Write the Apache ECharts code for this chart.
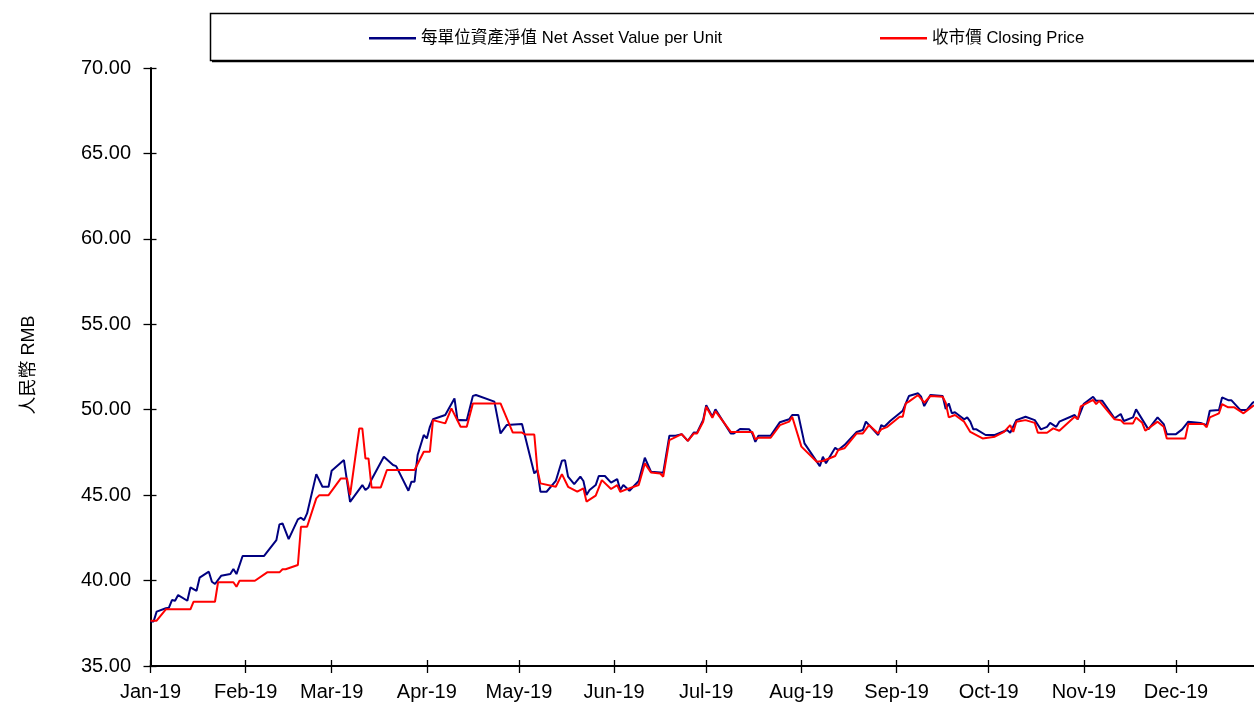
<!DOCTYPE html>
<html>
<head>
<meta charset="utf-8">
<script src="https://cdn.jsdelivr.net/npm/echarts@6/dist/echarts.min.js"></script>
<style>
html,body{margin:0;padding:0;background:#fff;}
#chart{width:1254px;height:702px;}
</style>
</head>
<body>
<div id="chart"></div>
<script>
// ---------- data ----------
const navName = '每單位資產淨值 Net Asset Value per Unit';
const priceName = '收市價 Closing Price';
const yAxisName = '人民幣 RMB';

const monthTicks = ['2019-01-01','2019-02-01','2019-03-01','2019-04-01','2019-05-01','2019-06-01',
                    '2019-07-01','2019-08-01','2019-09-01','2019-10-01','2019-11-01','2019-12-01'];
const monthLabels = ['Jan-19','Feb-19','Mar-19','Apr-19','May-19','Jun-19',
                     'Jul-19','Aug-19','Sep-19','Oct-19','Nov-19','Dec-19'];

const navDates = ['2019-01-01','2019-01-02','2019-01-03','2019-01-06','2019-01-07','2019-01-08','2019-01-09','2019-01-10','2019-01-13','2019-01-14','2019-01-16','2019-01-17','2019-01-20','2019-01-21','2019-01-22','2019-01-24','2019-01-27','2019-01-28','2019-01-29','2019-01-31',
'2019-02-07','2019-02-11','2019-02-12','2019-02-13','2019-02-15','2019-02-18','2019-02-19','2019-02-20','2019-02-21','2019-02-24','2019-02-26','2019-02-28',
'2019-03-01','2019-03-05','2019-03-07','2019-03-11','2019-03-12','2019-03-13','2019-03-14','2019-03-18','2019-03-21','2019-03-22','2019-03-26','2019-03-27','2019-03-28','2019-03-29','2019-03-31',
'2019-04-01','2019-04-02','2019-04-03','2019-04-07','2019-04-10','2019-04-11','2019-04-12','2019-04-14','2019-04-16','2019-04-17','2019-04-23','2019-04-25','2019-04-27',
'2019-05-02','2019-05-06','2019-05-07','2019-05-08','2019-05-10','2019-05-13','2019-05-15','2019-05-16','2019-05-17','2019-05-19','2019-05-21','2019-05-22','2019-05-23','2019-05-24','2019-05-26','2019-05-27','2019-05-29','2019-05-31',
'2019-06-02','2019-06-03','2019-06-04','2019-06-06','2019-06-09','2019-06-11','2019-06-13','2019-06-17','2019-06-19','2019-06-21','2019-06-23','2019-06-25','2019-06-27','2019-06-28','2019-06-30',
'2019-07-01','2019-07-03','2019-07-04','2019-07-09','2019-07-10','2019-07-12','2019-07-15','2019-07-16','2019-07-17','2019-07-18','2019-07-22','2019-07-25','2019-07-28','2019-07-29','2019-07-31',
'2019-08-02','2019-08-07','2019-08-08','2019-08-09','2019-08-12','2019-08-13','2019-08-15','2019-08-19','2019-08-21','2019-08-22','2019-08-26','2019-08-27','2019-08-28','2019-08-30',
'2019-09-03','2019-09-05','2019-09-08','2019-09-09','2019-09-10','2019-09-12','2019-09-16','2019-09-17','2019-09-18','2019-09-19','2019-09-20','2019-09-23','2019-09-24','2019-09-25','2019-09-26','2019-09-27','2019-09-30',
'2019-10-03','2019-10-07','2019-10-08','2019-10-10','2019-10-13','2019-10-16','2019-10-18','2019-10-20','2019-10-21','2019-10-23','2019-10-24','2019-10-29','2019-10-30',
'2019-11-01','2019-11-04','2019-11-05','2019-11-07','2019-11-11','2019-11-13','2019-11-14','2019-11-17','2019-11-18','2019-11-22','2019-11-25','2019-11-27','2019-11-28',
'2019-12-01','2019-12-03','2019-12-05','2019-12-09','2019-12-11','2019-12-12','2019-12-15','2019-12-16','2019-12-18','2019-12-19','2019-12-22','2019-12-24','2019-12-26','2019-12-27'];
const navValues = [37.60,37.60,38.18,38.38,38.41,38.86,38.82,39.15,38.82,39.60,39.40,40.17,40.52,39.93,39.80,40.28,40.38,40.68,40.38,41.44,
41.44,42.37,43.29,43.35,42.43,43.58,43.68,43.54,43.93,46.23,45.49,45.49,
46.43,47.05,44.61,45.59,45.30,45.45,45.92,47.25,46.76,46.70,45.26,45.79,45.79,47.35,48.52,
48.32,49.00,49.44,49.69,50.66,49.39,49.40,49.39,50.81,50.86,50.47,48.61,49.10,
49.16,46.27,46.47,45.20,45.20,45.83,47.01,47.05,46.08,45.65,46.08,45.83,45.01,45.30,45.59,46.12,46.12,45.73,
45.94,45.30,45.59,45.26,45.83,47.19,46.37,46.31,48.48,48.48,48.57,48.18,48.67,48.65,49.40,
50.27,49.59,50.02,48.61,48.61,48.87,48.85,48.61,48.12,48.48,48.48,49.27,49.44,49.69,49.69,
48.03,46.70,47.25,46.86,47.77,47.64,47.93,48.70,48.81,49.30,48.52,49.10,49.00,49.35,
49.94,50.80,50.96,50.76,50.21,50.86,50.80,50.04,50.37,49.79,49.85,49.44,49.55,49.30,48.85,48.85,48.52,
48.52,48.81,48.65,49.39,49.59,49.39,48.85,49.00,49.23,49.00,49.30,49.69,49.44,
50.35,50.76,50.52,50.52,49.50,49.75,49.34,49.55,50.02,48.85,49.55,49.16,48.57,
48.57,48.85,49.30,49.23,49.10,49.94,49.98,50.72,50.56,50.56,49.98,49.98,50.41,50.50];

const priceDates = ['2019-01-01','2019-01-03','2019-01-06','2019-01-14','2019-01-15','2019-01-22','2019-01-23','2019-01-28','2019-01-29','2019-01-30',
'2019-02-04','2019-02-08','2019-02-12','2019-02-13','2019-02-14','2019-02-18','2019-02-19','2019-02-21','2019-02-24','2019-02-25','2019-02-28',
'2019-03-04','2019-03-06','2019-03-07','2019-03-10','2019-03-11','2019-03-12','2019-03-13','2019-03-14','2019-03-17','2019-03-19','2019-03-28','2019-03-31',
'2019-04-02','2019-04-03','2019-04-07','2019-04-09','2019-04-12','2019-04-14','2019-04-16','2019-04-25','2019-04-29',
'2019-05-02','2019-05-03','2019-05-06','2019-05-07','2019-05-08','2019-05-13','2019-05-15','2019-05-17','2019-05-20','2019-05-22','2019-05-23','2019-05-26','2019-05-28','2019-05-31',
'2019-06-02','2019-06-03','2019-06-05','2019-06-09','2019-06-11','2019-06-13','2019-06-16','2019-06-17','2019-06-19','2019-06-23','2019-06-25','2019-06-27','2019-06-28','2019-06-30',
'2019-07-01','2019-07-03','2019-07-04','2019-07-09','2019-07-16','2019-07-17','2019-07-18','2019-07-22','2019-07-25','2019-07-28','2019-07-29',
'2019-08-01','2019-08-06','2019-08-08','2019-08-12','2019-08-13','2019-08-15','2019-08-19','2019-08-21','2019-08-23','2019-08-26','2019-08-27','2019-08-29',
'2019-09-02','2019-09-03','2019-09-04','2019-09-05','2019-09-08','2019-09-10','2019-09-12','2019-09-16','2019-09-17','2019-09-18','2019-09-20','2019-09-23','2019-09-25','2019-09-29',
'2019-10-03','2019-10-06','2019-10-08','2019-10-09','2019-10-10','2019-10-13','2019-10-16','2019-10-17','2019-10-20','2019-10-22','2019-10-24','2019-10-29','2019-10-30','2019-10-31',
'2019-11-04','2019-11-05','2019-11-06','2019-11-11','2019-11-13','2019-11-14','2019-11-17','2019-11-18','2019-11-20','2019-11-21','2019-11-25','2019-11-27','2019-11-28',
'2019-12-04','2019-12-05','2019-12-10','2019-12-11','2019-12-12','2019-12-15','2019-12-16','2019-12-18','2019-12-20','2019-12-23','2019-12-26','2019-12-27'];
const priceValues = [37.65,37.65,38.32,38.32,38.76,38.76,39.90,39.90,39.64,39.99,
39.99,40.48,40.48,40.66,40.66,40.91,43.15,43.15,44.81,45.00,45.00,
45.98,45.98,45.00,48.90,48.90,47.15,47.15,45.45,45.45,46.47,46.47,47.54,
47.54,49.39,49.20,50.08,49.00,49.00,50.37,50.37,48.66,
48.66,48.55,48.55,46.51,45.69,45.49,46.23,45.49,45.20,45.40,44.62,44.97,45.88,45.36,
45.59,45.20,45.34,45.59,46.86,46.33,46.27,46.08,48.22,48.57,48.18,48.61,48.61,49.30,
50.17,49.53,49.92,48.70,48.70,48.26,48.36,48.36,49.10,49.30,49.59,
47.84,46.95,47.00,47.29,47.64,47.74,48.61,48.61,49.10,48.61,48.85,49.00,
49.59,49.59,50.37,50.47,50.86,50.41,50.80,50.76,50.41,49.55,49.69,49.30,48.70,48.32,
48.42,48.70,49.10,48.70,49.30,49.39,49.23,48.65,48.65,48.91,48.77,49.59,49.45,50.20,
50.58,50.33,50.52,49.44,49.39,49.20,49.20,49.55,49.23,48.77,49.30,49.00,48.32,
48.32,49.16,49.16,48.97,49.55,49.79,50.33,50.14,50.14,49.79,50.21,50.30];

const yTickMin = 35, yTickMax = 70, yTickStep = 5;
const xStart = '2019-01-01', xEnd = '2019-12-31';

// ---------- helpers ----------
const ts = s => { const p = s.split('-').map(Number); return Date.UTC(p[0], p[1]-1, p[2]); };
const pairs = (d, v) => d.map((s, i) => [ts(s), v[i]]);
const tickVals = monthTicks.map(ts);
const labelFor = v => { const i = tickVals.indexOf(v); return i >= 0 ? monthLabels[i] : ''; };

const FONT = '"Liberation Sans", Arial, "Noto Sans CJK TC", sans-serif';
const chart = echarts.init(document.getElementById('chart'), null, {renderer: 'canvas'});

const xCommon = {
  type: 'value', min: ts(xStart), max: ts(xEnd), splitLine: {show: false}
};
const yCommon = {
  type: 'value', min: yTickMin, max: yTickMax, interval: yTickStep, splitLine: {show: false}
};

chart.setOption({
  animation: false,
  backgroundColor: '#ffffff',
  grid: {left: 150.5, top: 68, bottom: 36, width: 1117.6, containLabel: false, outerBoundsMode: 'none'},
  xAxis: [
    Object.assign({}, xCommon, {
      position: 'bottom',
      axisLine: {show: true, lineStyle: {color: '#000', width: 2}},
      axisTick: {show: true, inside: false, length: 7, customValues: tickVals, lineStyle: {color: '#000', width: 1.3}},
      axisLabel: {show: true, customValues: tickVals, formatter: labelFor, margin: 16,
                  color: '#000', fontSize: 20, fontFamily: FONT}
    }),
    Object.assign({}, xCommon, {
      position: 'bottom',
      axisLine: {show: false},
      axisTick: {show: true, inside: true, length: 6, customValues: tickVals, lineStyle: {color: '#000', width: 1.3}},
      axisLabel: {show: false}
    })
  ],
  yAxis: [
    Object.assign({}, yCommon, {
      position: 'left',
      axisLine: {show: true, lineStyle: {color: '#000', width: 2}},
      axisTick: {show: true, inside: false, length: 7, lineStyle: {color: '#000', width: 1.3}},
      axisLabel: {show: true, margin: 19.5, color: '#000', fontSize: 20, fontFamily: FONT,
                  formatter: v => v.toFixed(2)}
    }),
    Object.assign({}, yCommon, {
      position: 'left',
      axisLine: {show: false},
      axisTick: {show: true, inside: true, length: 6, lineStyle: {color: '#000', width: 1.3}},
      axisLabel: {show: false}
    })
  ],
  legend: [
    {data: [navName], left: 369, top: 30, padding: 0, icon: 'rect', itemWidth: 47, itemHeight: 2.5,
     textStyle: {fontSize: 16.6, color: '#000', fontFamily: FONT}},
    {data: [priceName], left: 880, top: 30, padding: 0, icon: 'rect', itemWidth: 47, itemHeight: 2.5,
     textStyle: {fontSize: 16.6, color: '#000', fontFamily: FONT}}
  ],
  graphic: [
    {type: 'rect', shape: {x: 210.5, y: 13.5, width: 1100, height: 47},
     style: {fill: 'none', stroke: '#000', lineWidth: 1.5}, z: -1},
    {type: 'line', shape: {x1: 212, y1: 61.5, x2: 1300, y2: 61.5}, style: {stroke: '#000', lineWidth: 1.5}},
    {type: 'text', x: 29, y: 365, rotation: Math.PI / 2,
     style: {text: yAxisName, fontSize: 18, fontFamily: FONT, fill: '#000', align: 'center', verticalAlign: 'middle'}}
  ],
  series: [
    {name: navName, type: 'line', data: pairs(navDates, navValues), showSymbol: false, symbol: 'none',
     lineStyle: {color: '#000080', width: 2}, itemStyle: {color: '#000080'}, z: 2},
    {name: priceName, type: 'line', data: pairs(priceDates, priceValues), showSymbol: false, symbol: 'none',
     lineStyle: {color: '#ff0000', width: 2}, itemStyle: {color: '#ff0000'}, z: 3}
  ]
});
</script>
</body>
</html>
